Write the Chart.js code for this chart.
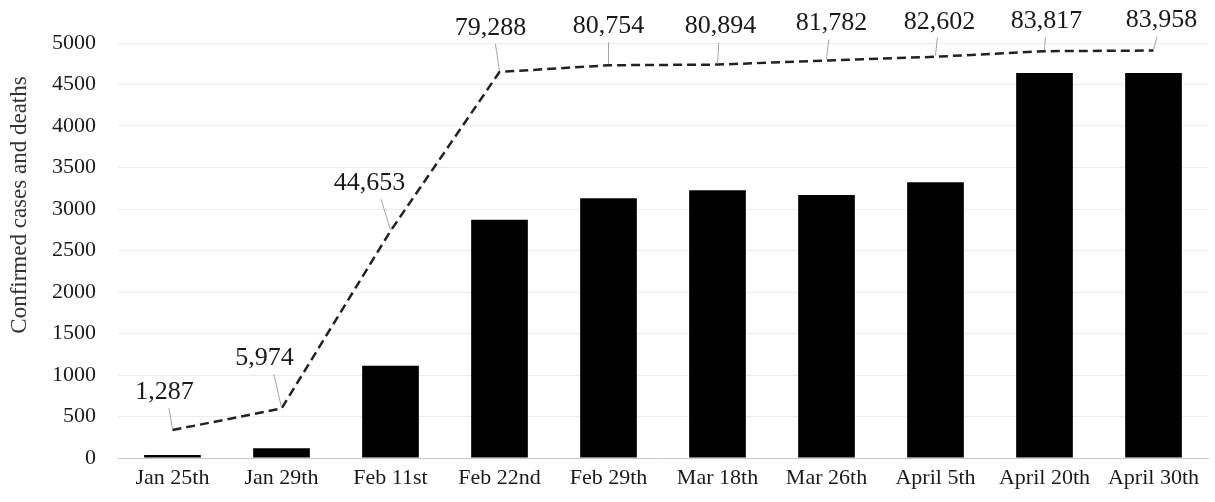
<!DOCTYPE html>
<html>
<head>
<meta charset="utf-8">
<script src="https://cdn.jsdelivr.net/npm/chart.js@4.4.1/dist/chart.umd.min.js"></script>
<style>
  html, body { margin: 0; padding: 0; background: #fff; }
  #wrap { width: 1215px; height: 502px; }
</style>
</head>
<body>
<div id="wrap"><canvas id="cases-chart" width="1215" height="502"></canvas></div>
<script>
const dates = ['Jan 25th', 'Jan 29th', 'Feb 11st', 'Feb 22nd', 'Feb 29th', 'Mar 18th', 'Mar 26th', 'April 5th', 'April 20th', 'April 30th'];
const deaths = [36, 118, 1110, 2870, 3130, 3227, 3170, 3323, 4639, 4639];
const confirmed = [1287, 5974, 44653, 79288, 80754, 80894, 81782, 82602, 83817, 83958];
const yTicks = [0, 500, 1000, 1500, 2000, 2500, 3000, 3500, 4000, 4500, 5000];
const yTitle = 'Confirmed cases and deaths';

// where each case label sits relative to its point (px), Excel-style
const labelShift = [[-8, -38], [-17, -50], [-21, -48], [-9, -44], [0, -39], [3, -38], [5, -37], [4, -35], [2, -30], [8, -30]];

const serif = '"Liberation Serif", "Times New Roman", serif';

const caseLabels = {
  id: 'caseLabels',
  afterDatasetsDraw(chart) {
    const ctx = chart.ctx;
    const meta = chart.getDatasetMeta(1);
    ctx.save();
    meta.data.forEach((pt, i) => {
      const lx = pt.x + labelShift[i][0];
      const ly = pt.y + labelShift[i][1];
      // leader line
      const sx = lx + (pt.x - lx) * 0.55;
      ctx.strokeStyle = '#a6a6a6';
      ctx.lineWidth = 1;
      ctx.beginPath();
      ctx.moveTo(sx, ly + 16);
      ctx.lineTo(pt.x, pt.y - 1);
      ctx.stroke();
      // value
      ctx.fillStyle = '#1a1a1a';
      ctx.font = '26px ' + serif;
      ctx.textAlign = 'center';
      ctx.textBaseline = 'middle';
      ctx.fillText(confirmed[i].toLocaleString('en-US'), lx, ly);
    });
    ctx.restore();
  }
};

// axis title sits a bit above the middle in the original, so draw it by hand
const axisTitle = {
  id: 'axisTitle',
  afterDraw(chart) {
    const ctx = chart.ctx;
    ctx.save();
    ctx.translate(20, 205);
    ctx.rotate(-Math.PI / 2);
    ctx.fillStyle = '#333';
    ctx.font = '23px ' + serif;
    ctx.textAlign = 'center';
    ctx.textBaseline = 'middle';
    ctx.fillText(yTitle, 0, 0);
    ctx.restore();
  }
};

new Chart(document.getElementById('cases-chart'), {
  data: {
    labels: dates,
    datasets: [{
      type: 'bar',
      label: 'Deaths',
      data: deaths,
      backgroundColor: '#000',
      barPercentage: 0.52,
      categoryPercentage: 1,
      yAxisID: 'y',
      order: 2
    }, {
      type: 'line',
      label: 'Confirmed cases',
      data: confirmed,
      borderColor: '#222',
      borderWidth: 2.5,
      borderDash: [9, 5],
      pointRadius: 0,
      fill: false,
      tension: 0,
      yAxisID: 'y1',
      order: 1
    }]
  },
  options: {
    responsive: false,
    animation: false,
    layout: { padding: { top: 43, right: 7, bottom: 0, left: 0 } },
    plugins: {
      legend: { display: false },
      tooltip: { enabled: false }
    },
    scales: {
      x: {
        grid: { display: false, drawTicks: false },
        border: { display: true, color: '#c8c8c8', width: 1 },
        ticks: { color: '#1a1a1a', font: { family: serif, size: 22 }, padding: 7, maxRotation: 0 },
        afterFit(scale) { scale.height = 44; }
      },
      y: {
        min: 0,
        max: 5000,
        afterBuildTicks(scale) { scale.ticks = yTicks.map(v => ({ value: v })); },
        grid: { color: '#ececec', drawTicks: false },
        border: { display: false },
        ticks: {
          color: '#1a1a1a',
          font: { family: serif, size: 22 },
          padding: 22,
          callback: v => String(v)
        },
        afterFit(scale) { scale.width = 118; }
      },
      y1: {
        display: false,
        min: -4800,
        max: 85600,
        grid: { display: false }
      }
    }
  },
  plugins: [caseLabels, axisTitle]
});
</script>
</body>
</html>
